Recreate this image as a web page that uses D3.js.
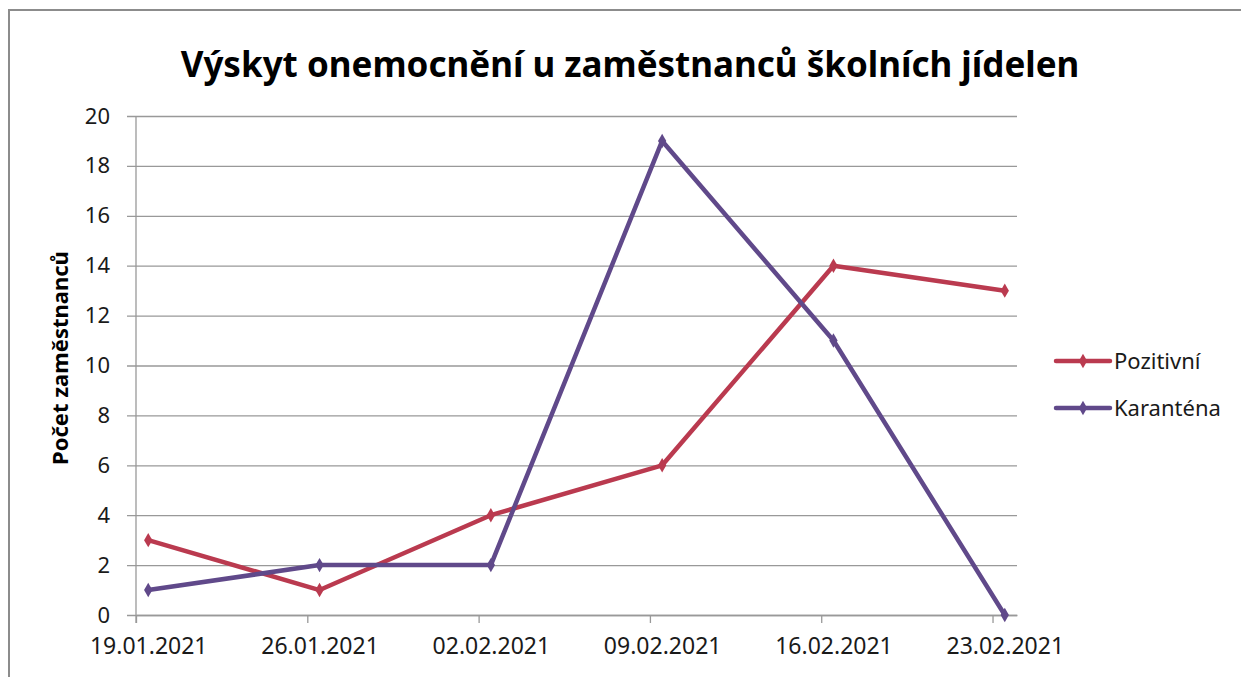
<!DOCTYPE html>
<html>
<head>
<meta charset="utf-8">
<script src="https://cdn.jsdelivr.net/npm/d3@7"></script>
<style>
    body { margin: 0; background: #fff; }
    svg { font-family: "Noto Sans", "Open Sans", sans-serif; }
</style>
</head>
<body>
<svg id="chart" width="1241" height="677"></svg>
<script>
// Data
let dates = ["19.01.2021", "26.01.2021", "02.02.2021", "09.02.2021", "16.02.2021", "23.02.2021"];
let pozitivni = [3, 1, 4, 6, 14, 13];
let karantena = [1, 2, 2, 19, 11, 0];
let seriesNames = ["Pozitivní", "Karanténa"];
let seriesColors = ["#BA3A4F", "#60498A"];
let yTicks = [0, 2, 4, 6, 8, 10, 12, 14, 16, 18, 20];

let parse = d3.timeParse("%d.%m.%Y");
let fmt = d3.timeFormat("%d.%m.%Y");
let dayMs = 24 * 3600 * 1000;

let svg = d3.select("#chart");

// Outer frame
svg.append("rect")
    .attr("x", 9).attr("y", 10)
    .attr("width", 1240).attr("height", 680)
    .attr("fill", "#fff")
    .attr("stroke", "#8c8c8c")
    .attr("stroke-width", 2);

// Plot area
let plotLeft = 136, plotRight = 1017, plotTop = 116, plotBottom = 615;

// Date axis: one slot per day, points sit in the middle of the day
let x = d3.scaleTime()
    .domain([parse(dates[0]), d3.timeDay.offset(parse(dates[dates.length - 1]), 1)])
    .range([plotLeft, plotRight]);
let halfDay = (x(new Date(parse(dates[0]).getTime() + dayMs)) - plotLeft) / 2;

let y = d3.scaleLinear()
    .domain([0, 20])
    .range([plotBottom, plotTop]);

// Gridlines and y axis
let yAxis = svg.append("g")
    .attr("transform", "translate(" + plotLeft + ",0)")
    .call(d3.axisLeft(y).tickValues(yTicks).tickSize(9).tickPadding(17).tickFormat(d3.format("d")));
yAxis.select(".domain").remove();
yAxis.selectAll(".tick line")
    .attr("x2", plotRight - plotLeft)
    .attr("x1", -9)
    .attr("stroke", "#999")
    .attr("stroke-width", 1.3);
yAxis.selectAll("text")
    .attr("font-size", "22px")
    .attr("fill", "#1a1a1a")
    .attr("font-family", "Noto Sans, sans-serif");

// Vertical axis line
svg.append("line")
    .attr("x1", plotLeft).attr("x2", plotLeft)
    .attr("y1", plotTop).attr("y2", plotBottom + 8)
    .attr("stroke", "#999")
    .attr("stroke-width", 1.3);

// X axis
let xAxis = svg.append("g")
    .attr("transform", "translate(0," + plotBottom + ")")
    .call(d3.axisBottom(x).tickValues(dates.map(parse)).tickSize(8).tickSizeOuter(0).tickPadding(15).tickFormat(fmt));
xAxis.select(".domain")
    .attr("stroke", "#999")
    .attr("stroke-width", 1.3);
xAxis.selectAll(".tick line")
    .attr("stroke", "#999")
    .attr("stroke-width", 1.3);
xAxis.selectAll("text")
    .attr("x", halfDay)
    .attr("font-size", "23px")
    .attr("fill", "#1a1a1a")
    .attr("font-family", "Noto Sans, sans-serif");

// Title
svg.append("text")
    .attr("x", 630)
    .attr("y", 77)
    .attr("text-anchor", "middle")
    .attr("font-size", "35px")
    .attr("font-weight", "bold")
    .attr("fill", "#000")
    .text("Výskyt onemocnění u zaměstnanců školních jídelen");

// Y axis title
svg.append("text")
    .attr("transform", "translate(68,358) rotate(-90)")
    .attr("text-anchor", "middle")
    .attr("font-size", "22px")
    .attr("font-weight", "bold")
    .attr("fill", "#000")
    .text("Počet zaměstnanců");

// Lines
let allSeries = [pozitivni, karantena];
let line = d3.line()
    .x((d, i) => x(parse(dates[i])) + halfDay)
    .y(d => y(d));
let diamond = d3.symbol().type(d3.symbolDiamond).size(60);

allSeries.forEach((vals, s) => {
    svg.append("path")
        .datum(vals)
        .attr("d", line)
        .attr("fill", "none")
        .attr("stroke", seriesColors[s])
        .attr("stroke-width", 4.5)
        .attr("stroke-linejoin", "round");
    svg.selectAll(".pt" + s)
        .data(vals)
        .join("path")
        .attr("class", "pt" + s)
        .attr("d", diamond)
        .attr("transform", (d, i) => "translate(" + (x(parse(dates[i])) + halfDay) + "," + y(d) + ")")
        .attr("fill", seriesColors[s]);
});

// Legend
let legend = svg.append("g");
seriesNames.forEach((name, s) => {
    let ly = 361 + s * 47;
    legend.append("line")
        .attr("x1", 1056).attr("x2", 1110)
        .attr("y1", ly).attr("y2", ly)
        .attr("stroke", seriesColors[s])
        .attr("stroke-width", 4.5)
        .attr("stroke-linecap", "round");
    legend.append("path")
        .attr("d", diamond)
        .attr("transform", "translate(1083," + ly + ")")
        .attr("fill", seriesColors[s]);
    legend.append("text")
        .attr("x", 1114)
        .attr("y", ly)
        .attr("dy", "0.35em")
        .attr("font-size", "22px")
        .attr("fill", "#1a1a1a")
        .text(name);
});
</script>
</body>
</html>
